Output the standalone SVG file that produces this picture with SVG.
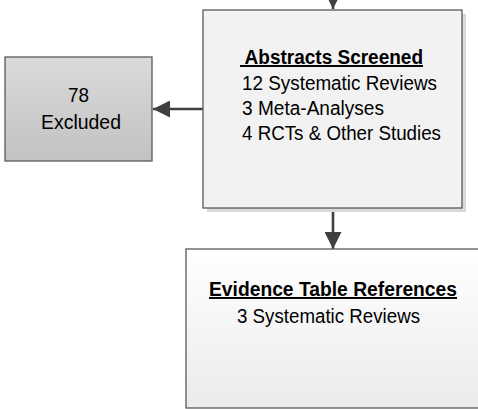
<svg xmlns="http://www.w3.org/2000/svg" width="478" height="409" viewBox="0 0 478 409">
<style>
text{font-family:"Liberation Sans",Arial,sans-serif;fill:#000;font-size:19.5px}
.b{font-weight:bold;text-decoration:underline}
.box{stroke:#595959;stroke-width:1.3}
.conn{stroke:#404040;stroke-width:2.6;fill:none}
</style>
<defs>
<linearGradient id="gEx" x1="0" y1="0" x2="0" y2="1">
<stop offset="0" stop-color="#dadada"/>
<stop offset="1" stop-color="#c2c2c2"/>
</linearGradient>
<linearGradient id="gEv" x1="0" y1="0" x2="0" y2="1">
<stop offset="0" stop-color="#ffffff"/>
<stop offset="1" stop-color="#ebebeb"/>
</linearGradient>
<marker id="ah" viewBox="0 0 17 17" refX="17" refY="8.5" markerWidth="17" markerHeight="17" markerUnits="userSpaceOnUse" orient="auto">
<path d="M0,0 L17,8.5 L0,17 Z" fill="#404040"/>
</marker>
</defs>
<g id="connectors">
<line class="conn" x1="333" y1="-20" x2="333" y2="9" marker-end="url(#ah)"/>
<line class="conn" x1="203" y1="109" x2="153" y2="109" marker-end="url(#ah)"/>
<line class="conn" x1="333" y1="209" x2="333" y2="249" marker-end="url(#ah)"/>
</g>
<g id="abstracts">
<rect x="207" y="14" width="259" height="198" fill="#d9d9d9"/>
<rect class="box" x="203" y="10" width="259" height="198" fill="#f2f2f2"/>
<text class="b" x="240" y="64" textLength="183" lengthAdjust="spacingAndGlyphs" xml:space="preserve"> Abstracts Screened</text>
<text x="242" y="90" textLength="195" lengthAdjust="spacingAndGlyphs">12 Systematic Reviews</text>
<text x="242" y="115" textLength="142" lengthAdjust="spacingAndGlyphs">3 Meta-Analyses</text>
<text x="242" y="140" textLength="199" lengthAdjust="spacingAndGlyphs">4 RCTs &amp; Other Studies</text>
</g>
<g id="excluded">
<rect class="box" x="5" y="57" width="147" height="104" fill="url(#gEx)"/>
<text x="78.5" y="102" text-anchor="middle" textLength="21" lengthAdjust="spacingAndGlyphs">78</text>
<text x="81" y="129" text-anchor="middle" textLength="80" lengthAdjust="spacingAndGlyphs">Excluded</text>
</g>
<g id="evidence">
<rect class="box" x="186" y="249" width="300" height="159" fill="url(#gEv)"/>
<text class="b" x="209" y="296" textLength="248" lengthAdjust="spacingAndGlyphs">Evidence Table References</text>
<text x="237" y="323" textLength="183" lengthAdjust="spacingAndGlyphs">3 Systematic Reviews</text>
</g>
</svg>
